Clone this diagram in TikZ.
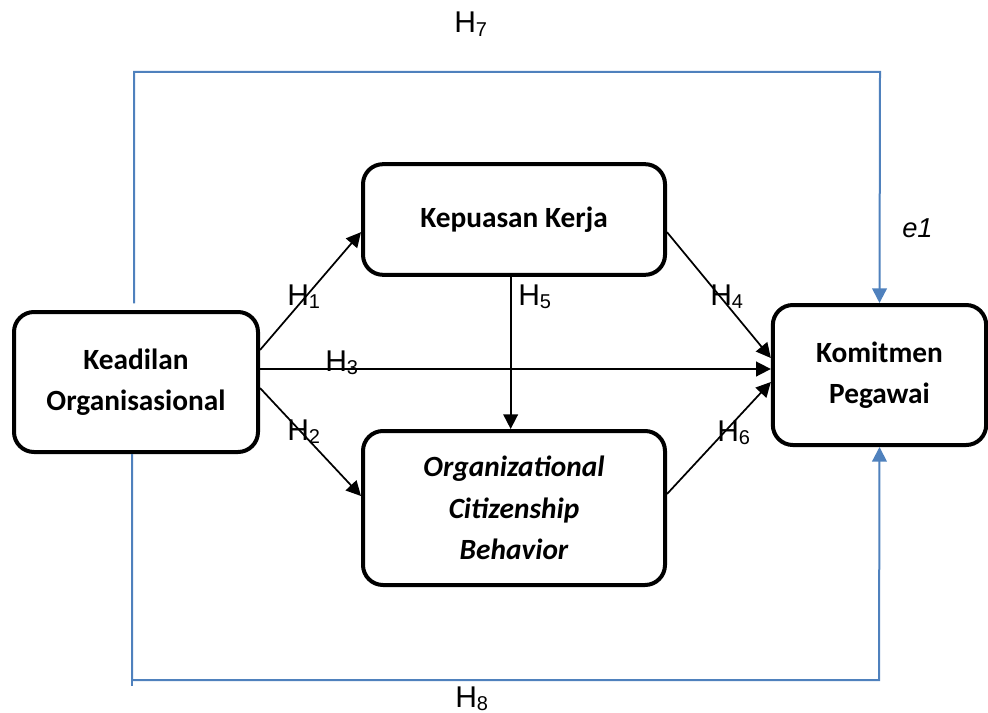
\documentclass[tikz,border=0pt]{standalone}
\usepackage{fontspec}
\setmainfont{Liberation Sans}
\newfontfamily\boxfont{Carlito}
\usetikzlibrary{arrows.meta}
\definecolor{lineblue}{RGB}{79,129,189}
\newcommand{\Hyp}[1]{H\raisebox{-2.5pt}{\fontsize{15}{15}\selectfont #1}}
\tikzset{
  box/.style={draw=black, line width=3pt, rounded corners=15pt, align=center,
    font=\boxfont\bfseries\fontsize{22}{31}\selectfont, inner sep=0pt},
  arr/.style={line width=1.3pt, -{Triangle[length=11pt,width=11pt]}},
  barr/.style={draw=lineblue, line width=1.5pt, -{Triangle[length=11pt,width=11pt]}},
  hlab/.style={anchor=base west, inner sep=0pt, font=\fontsize{22.5}{22.5}\selectfont},
}
\begin{document}
\begin{tikzpicture}[x=0.75pt,y=-0.75pt]
\useasboundingbox (0,0) rectangle (988,713);
% boxes
\node[box, minimum width=183pt, minimum height=105pt] (ko) at (136,382) {Keadilan\\Organisasional};
\node[box, minimum width=226.5pt, minimum height=83pt] (kk) at (514,219.5) {Kepuasan Kerja};
\node[box, minimum width=226.5pt, minimum height=115.5pt] (ocb) at (514,508) {\itshape Organizational\\\itshape Citizenship\\\itshape Behavior};
\node[box, minimum width=160pt, minimum height=105pt] (km) at (879.5,375) {Komitmen\\Pegawai};
% black arrows
\draw[arr] ([yshift=24pt]ko.east) -- ([yshift=-9.5pt]kk.west);
\draw[arr] ([yshift=-4.5pt]ko.east) -- ([yshift=9pt]ocb.west);
\draw[arr] ([yshift=9.75pt]ko.east) -- ([yshift=4.5pt]km.west);
\draw[arr] ([xshift=-2.5pt]kk.south) -- ([xshift=-2.5pt]ocb.north);
\draw[arr] ([yshift=-9.5pt]kk.east) -- ([yshift=12.75pt]km.west);
\draw[arr] ([yshift=10.5pt]ocb.east) -- ([yshift=-5.25pt]km.west);
% blue paths
\coordinate (t7) at (880,72);
\coordinate (b8) at (879,680);
\draw[barr] ([xshift=-1.5pt,yshift=5pt]ko.north) |- (t7) -- (km.north);
\draw[barr] ([xshift=-3pt]ko.south) |- (b8) -- (km.south);
\coordinate (b8l) at (132,686);
\draw[draw=lineblue, line width=1.5pt] ([xshift=-3pt]ko.south) -- (b8l);
% labels
\node[hlab] (h1) at (287,305) {\Hyp{1}};
\node[hlab] (h2) at (287,440) {\Hyp{2}};
\node[hlab] (h3) at (325,371) {\Hyp{3}};
\node[hlab] (h4) at (710,305) {\Hyp{4}};
\node[hlab] (h5) at (518,305) {\Hyp{5}};
\node[hlab] (h6) at (717,441) {\Hyp{6}};
\node[hlab] (h7) at (454,33) {\Hyp{7}};
\node[hlab] (h8) at (455,707) {\Hyp{8}};
\node[anchor=base west, inner sep=0pt, font=\itshape\fontsize{20.5}{20.5}\selectfont] (e1) at (902,237) {e1};
\end{tikzpicture}
\end{document}
